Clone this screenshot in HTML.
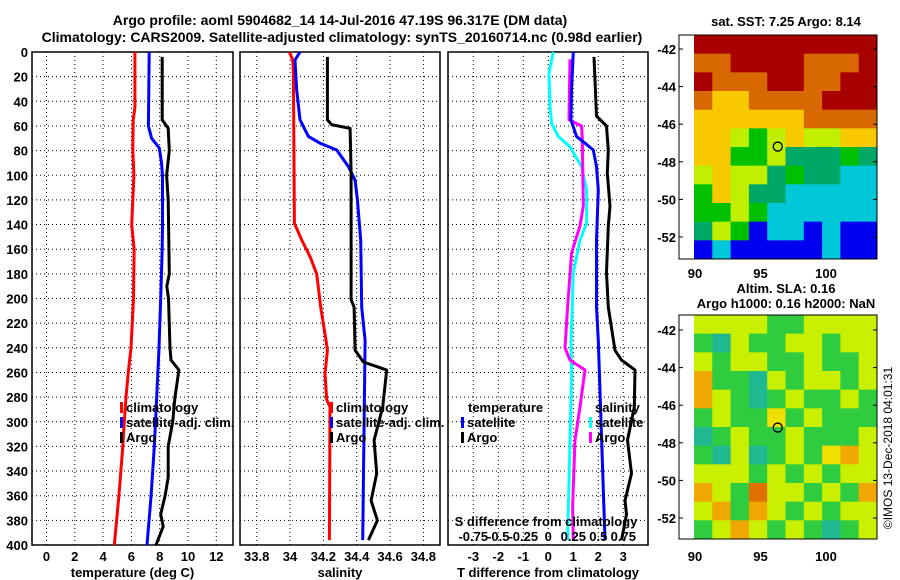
<!DOCTYPE html>
<html><head><meta charset="utf-8"><style>
html,body{margin:0;padding:0;background:#fff;width:900px;height:580px;overflow:hidden}
svg{display:block;font-family:"Liberation Sans",Arial,sans-serif;font-weight:bold}
</style></head><body>
<svg id="c" width="900" height="580" viewBox="0 0 900 580"></svg>
<script>
// ---- data ----
const tClimDepth=[0,45,55,80,100,140,160,200,240,260,280,300,320,360,400];
const tClimVal=[6.25,6.25,6.13,6.1,6.18,6.02,6.19,6.15,5.97,5.78,5.62,5.5,5.39,5.12,4.79];
const tSatDepth=[0,60,70,78,90,100,140,160,200,240,280,320,360,400];
const tSatVal=[7.26,7.2,7.43,7.97,8.13,8.2,8.2,8.18,8.07,7.95,7.79,7.62,7.39,7.1];
const tArgoDepth=[4,55,62,80,100,120,180,190,200,240,250,258,280,300,320,345,360,375,385,400];
const tArgoVal=[8.18,8.18,8.6,8.68,8.49,8.6,8.68,8.5,8.62,8.73,8.8,9.36,9.08,8.92,8.6,8.6,8.38,8.07,8.25,7.74];
const sClimDepth=[0,6.5,17,139,152.5,166,180,207,234,242,261,282,288,396];
const sClimVal=[33.996,34.016,34.02,34.026,34.07,34.12,34.16,34.184,34.216,34.224,34.21,34.22,34.24,34.236];
const sSatDepth=[0,6.5,31,55,68.5,74,79.5,93,104,120,152.5,207,234,396];
const sSatVal=[34.06,34.03,34.04,34.06,34.11,34.18,34.28,34.35,34.39,34.404,34.424,34.43,34.45,34.436];
const sArgoDepth=[4,55,59,62,98,201,207,242,251.5,258,288,315,342,364,380,396];
const sArgoVal=[34.224,34.224,34.25,34.36,34.366,34.366,34.384,34.39,34.44,34.58,34.556,34.504,34.52,34.486,34.524,34.47];
const dTSatDepth=[0,31,55,68.5,74,79.5,93,112,152.5,207,234,396];
const dTSatVal=[1.0,0.93,0.91,1.13,1.47,1.8,1.93,2.0,1.93,1.93,2.0,2.27];
const dTArgoDepth=[4,52,60,79.5,98,125,141,179,207,242,250,258,288,315,342,364,375,396];
const dTArgoVal=[1.83,1.93,2.33,2.4,2.36,2.47,2.4,2.33,2.4,2.67,2.93,3.47,3.44,3.17,3.33,3.07,3.13,2.93];
const dSSatDepth=[0,17,44,58,68.5,77,93,112,139,152.5,179,234,261,396];
const dSSatVal=[0.05,0.007,0.017,0.033,0.10,0.217,0.333,0.383,0.383,0.317,0.25,0.227,0.233,0.193];
const dSArgoDepth=[6,55,60,71,125,141,163,207,240,250,258,288,315,369,396];
const dSArgoVal=[0.217,0.207,0.333,0.34,0.35,0.317,0.233,0.193,0.167,0.217,0.367,0.317,0.267,0.243,0.25];
const depthTicks=[0,20,40,60,80,100,120,140,160,180,200,220,240,260,280,300,320,340,360,380,400];
const tTicks=[0,2,4,6,8,10,12];
const sTicks=[33.8,34,34.2,34.4,34.6,34.8];
const sTickLabels=["33.8","34","34.2","34.4","34.6","34.8"];
const dTTicks=[-3,-2,-1,0,1,2,3];
const dSTicks=[-0.75,-0.5,-0.25,0,0.25,0.5,0.75];
const dSTickLabels=["-0.75","-0.5","-0.25","0","0.25","0.5","0.75"];
const sstRows=["RRRRRRRRRR","OORRRROOOR","ROOORROORR","OYYOOOORRR","YYYYYYOOOO","YYLGLYLLYY","YYGGLTTTGT","LYLLTGTTCC","GYLTTCCCCC","GGLGCCCCCC","TLGBCCBCBB","BCBBBBBCBB"];
const slaRows=["LLLLGGLLLL","GTLGGLLGLL","LGLLGGLGGL","OGGTLGLLGL","OLGTGLGGLG","GLGGYGLGGG","TGLGGLGGGL","GTLTGLGYOL","LLLGLGLGLL","OLGDLLGLGO","LOGOLGLGLL","GLOLGLGTGL"];
const latTicks=[-42,-44,-46,-48,-50,-52];
const lonTicks=[90,95,100];
const argoLon=96.317, argoLat=-47.19;

// ---- helpers ----
const NS="http://www.w3.org/2000/svg";
const svg=document.getElementById('c');
function mk(tag,attrs,parent){const e=document.createElementNS(NS,tag);for(const k in attrs)e.setAttribute(k,attrs[k]);(parent||svg).appendChild(e);return e;}
function txt(x,y,s,size,anchor,parent){const t=mk('text',{x:x,y:y,'font-size':size,'text-anchor':anchor||'start',fill:'#000'},parent);t.textContent=s;return t;}
const Y0=52,Y1=545;
const yD=d=>Y0+(Y1-Y0)*d/400;

function panel(name,x0,x1,xs,ticks,labels,title,showY){
  const g=mk('g',{});
  
  
  depthTicks.forEach(d=>{const l=mk('line',{x1:x0,x2:x1,y1:yD(d),y2:yD(d),stroke:'#000','stroke-width':1,'stroke-dasharray':'1,3'},g);
    
    
    if(showY){const t=txt(x0-4,yD(d)+5,String(d),13,'end',g);
      
      }});
  ticks.forEach((v,i)=>{const l=mk('line',{x1:xs(v),x2:xs(v),y1:Y0,y2:Y1,stroke:'#000','stroke-width':1,'stroke-dasharray':'1,3'},g);
    
    
    const t=txt(xs(v),561,labels[i],13,'middle',g);
    
    });
  const r=mk('rect',{x:x0,y:Y0,width:x1-x0,height:Y1-Y0,fill:'none',stroke:'#000','stroke-width':1.5},g);
  
  
  const t=txt((x0+x1)/2,577,title,13,'middle',g);
  
  
  return g;
}
function series(g,depths,vals,xs,color,name){
  const pts=depths.map((d,i)=>xs(vals[i]).toFixed(1)+','+yD(d).toFixed(1)).join(' ');
  const p=mk('polyline',{points:pts,fill:'none',stroke:color,'stroke-width':3,'stroke-linejoin':'round'},g);
  
  
}
function legendEntry(g,x,y,color,label,name){
  if(color){const r=mk('rect',{x:x-6,y:y-10,width:3,height:11,fill:color},g);
    
    }
  const t=txt(x,y,label,13,'start',g);
  
  
}

// titles
let t1=txt(340,25,"Argo profile: aoml 5904682_14 14-Jul-2016 47.19S 96.317E (DM data)",14,'middle');


let t2=txt(342,42,"Climatology: CARS2009. Satellite-adjusted climatology: synTS_20160714.nc (0.98d earlier)",14,'middle');



// panel 1 temperature
const xT=v=>46.5+14.15*v;
const g1=panel('temperature-panel',32,233,xT,tTicks,tTicks.map(String),'temperature (deg C)',true);
series(g1,tClimDepth,tClimVal,xT,'#ff0000','temperature-climatology-line');
series(g1,tSatDepth,tSatVal,xT,'#0000ff','temperature-satellite-line');
series(g1,tArgoDepth,tArgoVal,xT,'#000000','temperature-argo-line');
legendEntry(g1,126,412,'#ff0000','climatology','legend-climatology');
legendEntry(g1,126,427,'#0000ff','satellite-adj. clim.','legend-satellite-adj');
legendEntry(g1,126,442,'#000000','Argo','legend-argo');

// panel 2 salinity
const xS=v=>256.7+(v-33.8)*166.7;
const g2=panel('salinity-panel',240,440,xS,sTicks,sTickLabels,'salinity',false);
series(g2,sClimDepth,sClimVal,xS,'#ff0000','salinity-climatology-line');
series(g2,sSatDepth,sSatVal,xS,'#0000ff','salinity-satellite-line');
series(g2,sArgoDepth,sArgoVal,xS,'#000000','salinity-argo-line');
legendEntry(g2,336,412,'#ff0000','climatology','legend-climatology');
legendEntry(g2,336,427,'#0000ff','satellite-adj. clim.','legend-satellite-adj');
legendEntry(g2,336,442,'#000000','Argo','legend-argo');

// panel 3 differences
const xDT=v=>548.3+25*v;
const xDS=v=>548.3+100*v;
const g3=panel('difference-panel',448,648,xDT,dTTicks,dTTicks.map(String),'T difference from climatology',false);
series(g3,dSSatDepth,dSSatVal,xDS,'#00ffff','salinity-diff-satellite-line');
series(g3,dSArgoDepth,dSArgoVal,xDS,'#ff00ff','salinity-diff-argo-line');
series(g3,dTSatDepth,dTSatVal,xDT,'#0000ff','temperature-diff-satellite-line');
series(g3,dTArgoDepth,dTArgoVal,xDT,'#000000','temperature-diff-argo-line');
legendEntry(g3,468,412,null,'temperature','legend-temperature-header');
legendEntry(g3,467,427,'#0000ff','satellite','legend-temp-satellite');
legendEntry(g3,467,442,'#000000','Argo','legend-temp-argo');
legendEntry(g3,595,412,null,'salinity','legend-salinity-header');
legendEntry(g3,595,427,'#00ffff','satellite','legend-sal-satellite');
legendEntry(g3,595,442,'#ff00ff','Argo','legend-sal-argo');
let st=txt(546,526,"S difference from climatology",13,'middle',g3);


dSTicks.forEach((v,i)=>{const t=txt(xDS(v),541,dSTickLabels[i],13,'middle',g3);
  
  });

// maps
const sstCol={R:'#a80000',O:'#d86800',Y:'#f8c800',L:'#c0f000',G:'#00c000',T:'#00a868',C:'#00c8d8',B:'#0000f0'};
const slaCol={G:'#30cc40',L:'#c8f000',Y:'#f0e000',O:'#f0a800',D:'#e07000',T:'#20b890'};
function map(name,fx0,dx0,y0,x1,y1,rows,cols,lat42y,lat52y,title,titleY,lonY){
  const g=mk('g',{});
  
  
  const nr=rows.length,nc=rows[0].length,cw=(x1-dx0)/nc,ch=(y1-y0)/nr;
  rows.forEach((row,r)=>{[...row].forEach((k,c)=>{
    const e=mk('rect',{x:dx0+c*cw,y:y0+r*ch,width:cw+0.5,height:ch+0.5,fill:cols[k]},g);
    
    });});
  const fr=mk('rect',{x:fx0,y:y0,width:x1-fx0,height:y1-y0,fill:'none',stroke:'#000','stroke-width':1},g);
  
  
  const lx=v=>695+13.1*(v-90);
  const ly=v=>lat42y+(lat52y-lat42y)*(v+42)/(-10);
  latTicks.forEach(v=>{const t=txt(fx0-3,ly(v)+5,String(v),13,'end',g);
    
    
    mk('line',{x1:fx0,x2:fx0+4,y1:ly(v),y2:ly(v),stroke:'#000'},g);
    mk('line',{x1:x1-4,x2:x1,y1:ly(v),y2:ly(v),stroke:'#000'},g);});
  lonTicks.forEach(v=>{const t=txt(lx(v),lonY,String(v),13,'middle',g);
    
    });
  const c=mk('circle',{cx:lx(argoLon),cy:ly(argoLat),r:4.5,fill:'none',stroke:'#000','stroke-width':1.3},g);
  
  
  title.forEach((s,i)=>{const t=txt(786,titleY+i*15,s,13,'middle',g);
    
    });
}
map('sst-map',679,694,35,877,259,sstRows,sstCol,49,237,["sat. SST: 7.25 Argo: 8.14"],26,278);
map('sla-map',679,694,315,877,539,slaRows,slaCol,330,518,["Altim. SLA: 0.16","Argo h1000: 0.16 h2000: NaN"],293,561);
let cp=txt(0,0,"©IMOS 13-Dec-2018 04:01:31",12,'middle');
cp.setAttribute('transform','translate(892,448) rotate(-90)');
cp.setAttribute('font-weight','normal');


</script>
</body></html>
